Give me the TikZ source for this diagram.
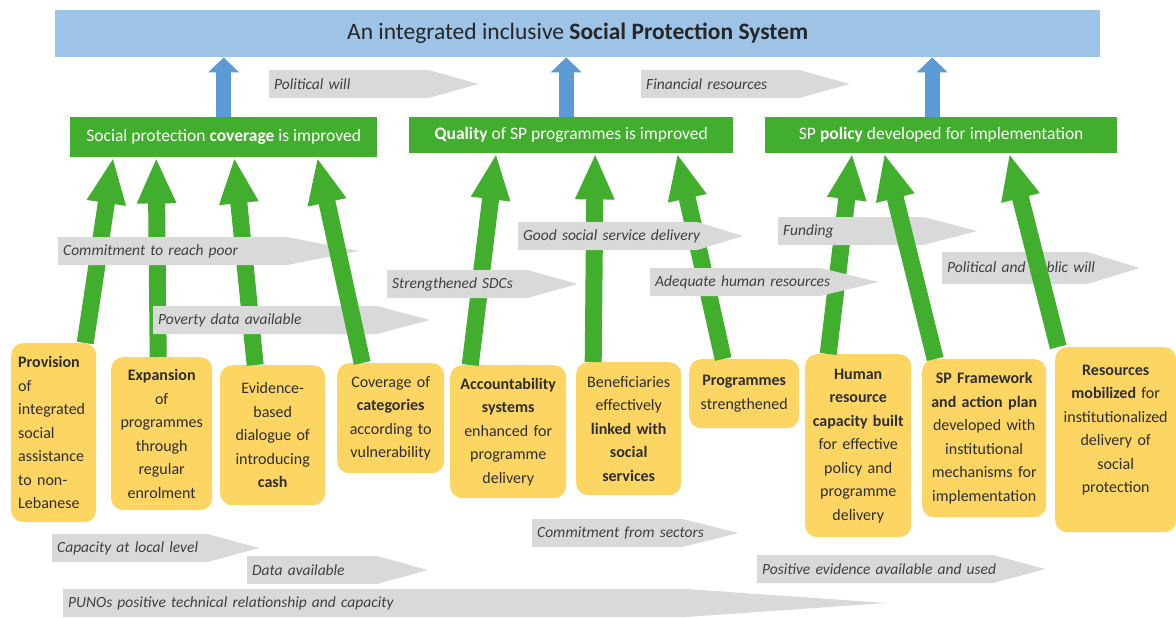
\documentclass[tikz,border=0pt]{standalone}
\usepackage{fontspec}
\setmainfont{Carlito}
\usetikzlibrary{arrows.meta,shapes.symbols}

\definecolor{sysblue}{HTML}{9DC3E6}
\definecolor{arrblue}{HTML}{5B9BD5}
\definecolor{outgreen}{HTML}{41AE2D}
\definecolor{outyellow}{HTML}{FDD563}
\definecolor{condgrey}{HTML}{D9D9D9}
\definecolor{condtext}{HTML}{404040}

\begin{document}
\begin{tikzpicture}[%
    x=1pt, y=-1pt,
    goal/.style={fill=sysblue, anchor=north west, inner sep=0pt,
        minimum width=1045pt, minimum height=47pt,
        font=\fontsize{23.5}{26}\selectfont, text=black!85},
    outcome/.style={fill=outgreen, text=white, anchor=north west,
        inner sep=0pt, font=\fontsize{17.5}{20}\selectfont},
    output/.style={fill=outyellow, rounded corners=12pt, anchor=north west,
        inner sep=0pt, align=center, text=black!82,
        font=\fontsize{16}{23.5}\selectfont},
    cond/.style={signal, signal to=east, signal pointer angle=30,
        fill=condgrey, text=condtext, minimum height=28pt,
        inner xsep=5pt, inner ysep=0pt, align=left, anchor=west,
        font=\fontsize{15.5}{17}\selectfont\itshape},
    sysarrow/.style={draw=arrblue, line width=15pt,
        -{Triangle[length=15pt,width=30pt]}},
    contrib/.style={draw=outgreen, line width=17pt,
        -{Triangle[length=46pt,width=36pt]}}
    ]
    \useasboundingbox (0,0) rectangle (1176,618);

    % goal and outcomes
    \node[goal] (sps) at (55,10)
        {An integrated inclusive \textbf{Social Protection System}};
    \node[outcome, minimum width=307pt, minimum height=40pt] (cov) at (70,117)
        {Social protection \textbf{coverage} is improved};
    \node[outcome, minimum width=324pt, minimum height=36pt] (qual) at (409,117)
        {\textbf{Quality} of SP programmes is improved};
    \node[outcome, minimum width=352pt, minimum height=36pt] (pol) at (765,117)
        {SP \textbf{policy} developed for implementation};

    \draw[sysarrow] (cov.north) -- (cov.north |- sps.south);
    \draw[sysarrow] ([xshift=-5pt]qual.north) -- ([xshift=-5pt]qual.north |- sps.south);
    \draw[sysarrow] ([xshift=-9pt]pol.north) -- ([xshift=-9pt]pol.north |- sps.south);

    % outputs
    \node[output, text width=71pt, inner xsep=7pt, align=left,
          minimum height=179pt] (prov) at (11,343)
        {\textbf{Provision}\\ of\\ integrated\\ social\\ assistance\\ to non-\\ Lebanese};
    \node[output, text width=101pt, minimum height=153pt] (expa) at (111,357)
        {\textbf{Expansion}\\ of\\ programmes\\ through\\ regular\\ enrolment};
    \node[output, text width=105pt, minimum height=140pt] (evid) at (220,365)
        {Evidence-\\ based\\ dialogue of\\ introducing\\ \textbf{cash}};
    \node[output, text width=107pt, minimum height=110pt] (cate) at (337,363)
        {Coverage of\\ \textbf{categories}\\ according to\\ vulnerability};
    \node[output, text width=116pt, minimum height=133pt] (acct) at (450,365)
        {\textbf{Accountability}\\ \textbf{systems}\\ enhanced for\\ programme\\ delivery};
    \node[output, text width=105pt, minimum height=133pt] (bene) at (576,362)
        {Beneficiaries\\ effectively\\ \textbf{linked with}\\ \textbf{social}\\ \textbf{services}};
    \node[output, text width=110pt, minimum height=69pt] (prog) at (689,359)
        {\textbf{Programmes}\\ strengthened};
    \node[output, text width=106pt, minimum height=183pt] (hrc) at (805,354)
        {\textbf{Human}\\ \textbf{resource}\\ \textbf{capacity built}\\ for effective\\ policy and\\ programme\\ delivery};
    \node[output, text width=124pt, minimum height=158pt] (spf) at (922,359)
        {\textbf{SP Framework}\\ \textbf{and action plan}\\ developed with\\ institutional\\ mechanisms for\\ implementation};
    \node[output, text width=121pt, minimum height=185pt] (res) at (1055,347)
        {\textbf{Resources}\\ \textbf{mobilized} for\\ institutionalized\\ delivery of\\ social\\ protection\\[-2pt] \mbox{}};

    % outputs feeding the outcomes
    \draw[contrib] ([xshift=31.5pt]prov.north) -- ([xshift=-110.5pt]cov.south);
    \draw[contrib] ([xshift=-3.5pt]expa.north) -- ([xshift=-67.5pt]cov.south);
    \draw[contrib] ([xshift=-17.5pt]evid.north) -- ([xshift=10.5pt]cov.south);
    \draw[contrib] ([xshift=-38pt]acct.north) -- ([xshift=-75pt]qual.south);
    \draw[contrib] ([xshift=-35.5pt]bene.north) -- ([xshift=24pt]qual.south);
    \draw[contrib] ([xshift=-21pt]prog.north) -- ([xshift=106pt]qual.south);
    \draw[contrib] ([xshift=-30pt]hrc.north) -- ([xshift=-89pt]pol.south);

    % assumptions
    \node[cond, text width=149pt, signal pointer angle=31] (polwill) at (269,84) {\mbox{Political will}};
    \node[cond, text width=148pt, signal pointer angle=31] (finres) at (641,84) {\mbox{Financial resources}};
    \node[cond, text width=219pt, signal pointer angle=22] (reach) at (58,251) {\mbox{Commitment to reach poor}};
    \node[cond, text width=214pt] (povdata) at (153,320) {\mbox{Poverty data available}};
    \node[cond, text width=169pt, signal pointer angle=34] (goodsd) at (518,236) {\mbox{Good social service delivery}};
    \node[cond, text width=130pt, signal pointer angle=31] (sdc) at (387,284) {\mbox{Strengthened SDCs}};
    \node[cond, text width=135pt, signal pointer angle=29] (funding) at (778,231) {\mbox{Funding}};
    \node[cond, text width=160pt, signal pointer angle=27] (hres) at (650,282) {\mbox{Adequate human resources}};
    \node[cond, text width=135pt, minimum height=32pt, signal pointer angle=34] (pubwill) at (942,268) {\mbox{Political and public will}};
    \node[cond, text width=145pt] (localcap) at (52,548) {\mbox{Capacity at local level}};
    \node[cond, text width=120pt, signal pointer angle=31] (data) at (247,570) {\mbox{Data available}};
    \node[cond, text width=613pt, signal pointer angle=8] (puno) at (63,603) {\mbox{PUNOs positive technical relationship and capacity}};
    \node[cond, text width=140pt, signal pointer angle=28] (sectors) at (532,533) {\mbox{Commitment from sectors}};
    \node[cond, text width=226pt] (evidence) at (757,569) {\mbox{Positive evidence available and used}};

    \draw[contrib] ([xshift=-28.5pt]cate.north) -- ([xshift=93.5pt]cov.south);
    \draw[contrib] ([xshift=-49pt]spf.north) -- ([xshift=-57pt]pol.south);
    \draw[contrib] ([xshift=-57.5pt]res.north) -- ([xshift=68pt]pol.south);

\end{tikzpicture}
\end{document}
